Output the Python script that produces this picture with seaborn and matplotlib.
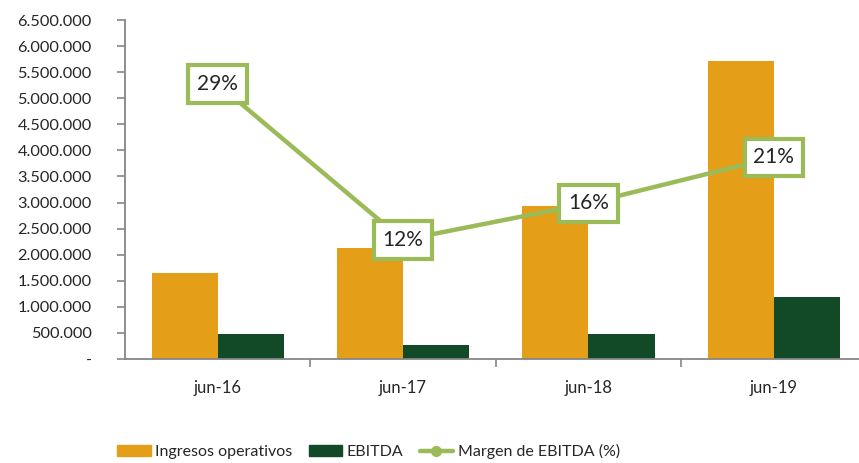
import matplotlib
matplotlib.use("Agg")
import matplotlib.pyplot as plt
import seaborn as sns
import pandas as pd
from matplotlib.patches import Patch
from matplotlib.lines import Line2D
from matplotlib.ticker import FuncFormatter, FixedLocator

# data
periods = ["jun-16", "jun-17", "jun-18", "jun-19"]
ingresos = [1650000, 2130000, 2940000, 5710000]
ebitda = [480000, 270000, 480000, 1180000]
margen = [0.29, 0.12, 0.16, 0.21]

c_ing = "#E49E18"
c_ebitda = "#124A28"
c_line = "#9BBB59"
c_axis = "#868686"

sns.set_style("white")
plt.rcParams["font.family"] = ["Lato", "DejaVu Sans"]

df = pd.DataFrame({
    "periodo": periods * 2,
    "serie": ["Ingresos operativos"] * 4 + ["EBITDA"] * 4,
    "valor": ingresos + ebitda,
})

fig = plt.figure(figsize=(8.59, 4.63), dpi=100)
ax = fig.add_axes([125 / 859, 104 / 463, 1 - 125 / 859, 339 / 463])

sns.barplot(data=df, x="periodo", y="valor", hue="serie", order=periods,
            palette=[c_ing, c_ebitda], width=0.714, saturation=1,
            edgecolor="none", legend=False, ax=ax)

ax.set_ylim(0, 6500000)
ax.yaxis.set_major_locator(FixedLocator(range(0, 6500001, 500000)))

def fmt(v, pos):
    if v == 0:
        return "-"
    return f"{int(v):,}".replace(",", ".")

ax.yaxis.set_major_formatter(FuncFormatter(fmt))
ax.set_xlabel("")
ax.set_ylabel("")
for s in ["top", "right"]:
    ax.spines[s].set_visible(False)
for s in ["left", "bottom"]:
    ax.spines[s].set_color(c_axis)
    ax.spines[s].set_linewidth(1.3)
ax.tick_params(axis="y", direction="out", length=6, width=1.2, color=c_axis,
               labelsize=11.8, pad=18, left=True)
ax.tick_params(axis="x", which="major", length=0, labelsize=12, pad=15)
ax.set_xticks([0.5, 1.5, 2.5], minor=True)
ax.tick_params(axis="x", which="minor", direction="out", length=6, width=1.2,
               color=c_axis, bottom=True)

# margin line on a hidden secondary axis
ax2 = ax.twinx()
sns.pointplot(x=periods, y=margen, order=periods, color=c_line, markers="",
              linewidth=3.2, ax=ax2)
ax2.set_ylim(-0.0096, 0.3597)
ax2.axis("off")
for i, m in enumerate(margen):
    ax2.text(i, m, f"{m * 100:.0f}%", ha="center", va="center", fontsize=15,
             bbox=dict(boxstyle="square,pad=0.42", fc="white", ec=c_line, lw=3))

ax.set_xlim(-0.5, 3.46)
ax2.set_xlim(-0.5, 3.46)

handles = [
    Patch(color=c_ing, label="Ingresos operativos"),
    Patch(color=c_ebitda, label="EBITDA"),
    Line2D([], [], color=c_line, lw=3.2, marker="o", markersize=7,
           label="Margen de EBITDA (%)"),
]
fig.legend(handles=handles, loc="center left", bbox_to_anchor=(117 / 859, 0.024),
           ncol=3, frameon=False, fontsize=11.5, handlelength=2.1, handleheight=0.7,
           handletextpad=0.3, columnspacing=1.0, borderpad=0, borderaxespad=0)

fig.savefig("out.png", dpi=100)
